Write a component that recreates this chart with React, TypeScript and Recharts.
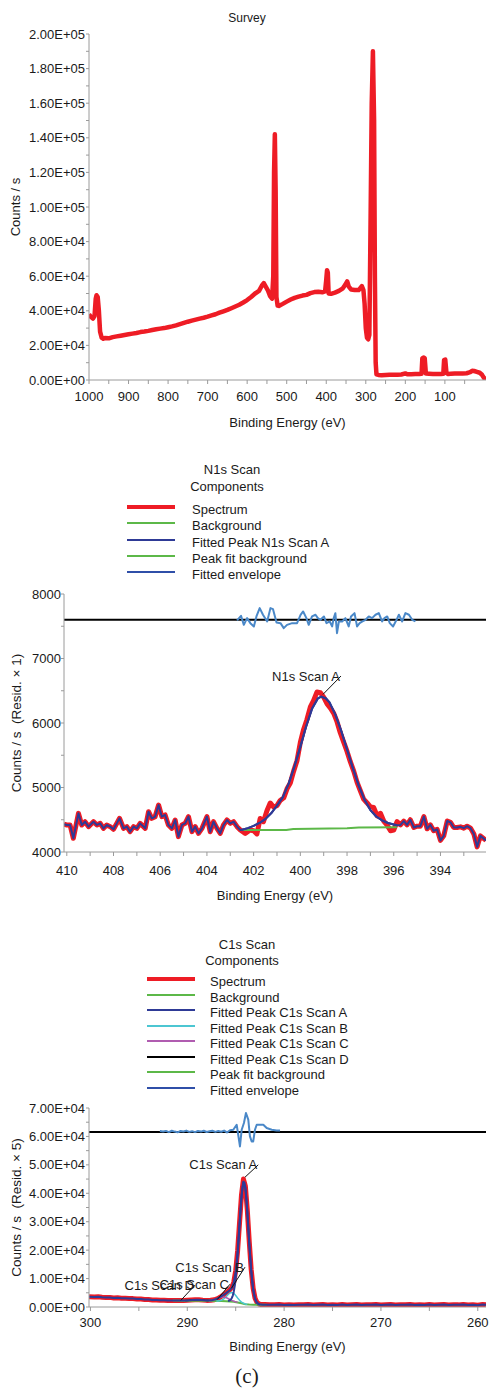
import React from "react";
import {
  LineChart,
  Line,
  XAxis,
  YAxis,
  ReferenceLine,
  ReferenceDot,
} from "recharts";

type Pair = [number, number]; // [binding energy (eV), counts / s]

const FONT = '"Liberation Sans", Arial, sans-serif';
const INK = "#1a1a1a";
const AXIS = "#9a9a9a";
const RED = "#ee1c25";
const GREEN = "#5cb848";
const NAVY = "#2e3a96";
const CYAN = "#4cc6d2";
const MAGENTA = "#b05cb0";
const RESID = "#4a88c8";

// ---------- Survey ----------
const SURVEY: Pair[] = [
  [1000, 38000], [995, 36500], [990, 35500], [986, 37000], [983, 47000], [981, 49000],
  [978, 48000], [975, 40000], [972, 28000], [968, 24500], [964, 23800], [960, 24300],
  [950, 24100], [940, 24800], [930, 25200], [920, 25600], [910, 26000], [900, 26400],
  [890, 26800], [880, 27200], [870, 27700], [860, 28000], [850, 28400], [840, 28900],
  [830, 29300], [820, 29700], [810, 30000], [800, 30500], [790, 31000], [780, 31600],
  [770, 32300], [760, 33000], [750, 33700], [740, 34300], [730, 34900], [720, 35500],
  [710, 36000], [700, 36600], [690, 37300], [680, 38000], [670, 38900], [660, 39700],
  [650, 40500], [640, 41500], [630, 42500], [620, 43500], [610, 44800], [600, 46200],
  [590, 48000], [580, 50000], [570, 51500], [563, 54500], [558, 56000], [553, 54000],
  [548, 52000], [542, 48500], [537, 47000], [534, 60000], [532, 120000], [530, 142000],
  [528, 110000], [526, 48000], [523, 43000], [520, 42800], [510, 44000], [500, 45300],
  [490, 46500], [480, 47500], [470, 48200], [460, 48800], [450, 49200], [440, 50200],
  [430, 50800], [420, 51000], [410, 50700], [403, 51200], [400, 58000], [398, 63500],
  [396, 62000], [394, 50000], [388, 49800], [378, 50500], [368, 51500], [358, 53000],
  [352, 55000], [347, 57000], [343, 54000], [337, 52300], [328, 52000], [318, 52000],
  [310, 54300], [306, 52000], [303, 44000], [300, 30000], [297, 24500], [294, 23500],
  [291, 26000], [288, 90000], [285, 160000], [282, 190000], [279, 150000], [277, 60000],
  [275, 10000], [273, 3300], [268, 2900], [260, 2800], [250, 2900], [240, 3000],
  [230, 3000], [220, 3100], [210, 3200], [200, 3800], [195, 3300], [185, 3300],
  [175, 3400], [165, 3500], [159, 3600], [157, 12500], [154, 13000], [151, 12600],
  [148, 3700], [140, 3600], [130, 3500], [120, 3400], [110, 3500], [104, 3600],
  [102, 11500], [99, 11800], [96, 4000], [92, 3500], [85, 3600], [75, 3700],
  [65, 3700], [55, 3800], [45, 3900], [36, 4500], [31, 5300], [26, 5200],
  [19, 4700], [12, 4200], [6, 3000], [2, 1500], [-3, 0],
];
const SURVEY_X_DOMAIN: [number, number] = [-4, 1000];
const SURVEY_Y_DOMAIN: [number, number] = [0, 200000];
const SURVEY_X_TICKS = [
  1000, 950, 900, 850, 800, 750, 700, 650, 600, 550, 500, 450, 400, 350, 300, 250, 200,
  150, 100, 50,
];
const SURVEY_Y_TICKS = [
  0, 10000, 20000, 30000, 40000, 50000, 60000, 70000, 80000, 90000, 100000, 110000,
  120000, 130000, 140000, 150000, 160000, 170000, 180000, 190000, 200000,
];

// ---------- N1s ----------
const N1S_SPECTRUM: Pair[] = [
  [410.12, 4430], [410.0, 4419], [409.86, 4419], [409.72, 4212], [409.5, 4599],
  [409.36, 4419], [409.22, 4470], [409.07, 4393], [408.86, 4470], [408.71, 4419],
  [408.57, 4444], [408.43, 4367], [408.29, 4419], [408.14, 4393], [408.0, 4352],
  [407.86, 4444], [407.74, 4522], [407.57, 4367], [407.43, 4393], [407.29, 4315],
  [407.14, 4393], [407.0, 4367], [406.86, 4444], [406.64, 4367], [406.5, 4625],
  [406.36, 4522], [406.22, 4548], [406.07, 4728], [405.93, 4548], [405.79, 4574],
  [405.65, 4419], [405.5, 4367], [405.36, 4496], [405.22, 4238], [405.07, 4419],
  [404.93, 4444], [404.79, 4548], [404.64, 4315], [404.5, 4393], [404.36, 4289],
  [404.21, 4367], [404.0, 4548], [403.86, 4315], [403.72, 4470], [403.57, 4367],
  [403.43, 4289], [403.29, 4419], [403.14, 4496], [403.0, 4444], [402.86, 4470],
  [402.71, 4393], [402.57, 4341], [402.36, 4289], [402.15, 4341], [402.0, 4330],
  [401.86, 4280], [401.72, 4520], [401.58, 4470], [401.43, 4640], [401.29, 4760],
  [401.15, 4700], [401.0, 4720], [400.86, 4800], [400.71, 4840], [400.57, 4980],
  [400.43, 5070], [400.29, 5250], [400.14, 5420], [400.0, 5700], [399.86, 5900],
  [399.72, 6050], [399.57, 6250], [399.43, 6350], [399.29, 6480], [399.14, 6470],
  [399.0, 6400], [398.86, 6300], [398.71, 6230], [398.57, 6150], [398.43, 6020],
  [398.29, 5850], [398.14, 5700], [398.0, 5560], [397.86, 5400], [397.71, 5250],
  [397.57, 5080], [397.43, 4950], [397.29, 4820], [397.14, 4760], [397.0, 4700],
  [396.86, 4690], [396.71, 4560], [396.57, 4600], [396.43, 4480], [396.29, 4420],
  [396.14, 4330], [396.0, 4340], [395.86, 4470], [395.71, 4420], [395.57, 4480],
  [395.43, 4420], [395.29, 4500], [395.14, 4380], [395.0, 4400], [394.86, 4400],
  [394.71, 4550], [394.57, 4360], [394.43, 4420], [394.29, 4330], [394.14, 4350],
  [394.0, 4180], [393.86, 4250], [393.71, 4480], [393.57, 4460], [393.43, 4380],
  [393.29, 4380], [393.14, 4390], [393.0, 4370], [392.86, 4400], [392.71, 4370],
  [392.57, 4280], [392.43, 4080], [392.29, 4250], [392.05, 4180],
];
const N1S_BACKGROUND: Pair[] = [
  [402.5, 4340], [400.6, 4342], [400.3, 4355], [398.0, 4370], [397.5, 4380], [395.86, 4385],
];
// single component, so the fitted peak and the envelope coincide
const N1S_PEAK_A: Pair[] = [
  [402.5, 4345], [402.25, 4370], [402.0, 4405], [401.75, 4450], [401.5, 4510],
  [401.25, 4600], [401.0, 4720], [400.75, 4850], [400.5, 5060], [400.25, 5330],
  [400.0, 5630], [399.75, 5950], [399.5, 6220], [399.25, 6380], [399.1, 6410],
  [398.9, 6380], [398.75, 6320], [398.5, 6130], [398.25, 5880], [398.0, 5590],
  [397.75, 5300], [397.5, 5030], [397.25, 4810], [397.0, 4650], [396.75, 4550],
  [396.5, 4490], [396.25, 4450], [396.0, 4425], [395.86, 4415],
];
const N1S_ENVELOPE: Pair[] = N1S_PEAK_A;
const N1S_FIT: [number, number] = [395.86, 402.5];
const N1S_RESIDUAL: Pair[] = [
  [402.71, 7590], [402.54, 7662], [402.42, 7522], [402.28, 7626], [402.14, 7548],
  [401.99, 7497], [401.88, 7652], [401.74, 7781], [401.6, 7678], [401.42, 7574],
  [401.28, 7781], [401.17, 7765], [401.02, 7559], [400.85, 7548], [400.71, 7471],
  [400.57, 7522], [400.35, 7548], [400.14, 7548], [399.99, 7678], [399.88, 7729],
  [399.74, 7626], [399.64, 7522], [399.5, 7652], [399.35, 7678], [399.25, 7626],
  [399.14, 7600], [398.99, 7652], [398.88, 7548], [398.74, 7574], [398.64, 7497],
  [398.57, 7626], [398.5, 7703], [398.43, 7393], [398.35, 7574], [398.21, 7574],
  [398.07, 7626], [397.93, 7497], [397.83, 7652], [397.68, 7703], [397.57, 7497],
  [397.46, 7548], [397.34, 7574], [397.21, 7600], [397.07, 7652], [396.93, 7626],
  [396.78, 7678], [396.64, 7703], [396.5, 7574], [396.4, 7626], [396.28, 7652],
  [396.17, 7548], [396.03, 7497], [395.88, 7600], [395.78, 7678], [395.64, 7574],
  [395.5, 7703], [395.35, 7678], [395.21, 7600], [395.07, 7574],
];
const N1S_RESID_BASE = 7600;
const N1S_X_DOMAIN: [number, number] = [392.05, 410.12];
const N1S_Y_DOMAIN: [number, number] = [4000, 8000];
const N1S_X_TICKS = [410, 409, 408, 407, 406, 405, 404, 403, 402, 401, 400, 399, 398, 397, 396, 395, 394, 393];
const N1S_Y_TICKS = [4000, 4500, 5000, 5500, 6000, 6500, 7000, 7500, 8000];
const N1S_LEGEND = ["Spectrum", "Background", "Fitted Peak N1s Scan A", "Peak fit background", "Fitted envelope"];
const N1S_LABELS = [{ text: "N1s Scan A", tip: [399.03, 6444], tail: [398.26, 6728] }];

// ---------- C1s ----------
const C1S_SPECTRUM: Pair[] = [
  [300.15, 3650], [299.6, 3500], [299.2, 3580], [298.8, 3420], [298.4, 3350], [298.0, 3380],
  [297.6, 3200], [297.2, 3250], [296.8, 3100], [296.4, 3050], [296.0, 3000], [295.6, 2950],
  [295.2, 2820], [294.8, 2780], [294.4, 2650], [294.0, 2600], [293.6, 2500], [293.2, 2480],
  [292.8, 2380], [292.4, 2350], [292.0, 2300], [291.6, 2280], [291.2, 2320], [290.8, 2260],
  [290.4, 2300], [290.0, 2380], [289.6, 2480], [289.2, 2520], [288.8, 2560], [288.4, 2420],
  [288.0, 2330], [287.6, 2350], [287.2, 2550], [286.8, 3050], [286.6, 3500], [286.4, 3900],
  [286.2, 4400], [286.0, 4900], [285.8, 5500], [285.6, 6100], [285.4, 6900], [285.2, 8700],
  [285.0, 12800], [284.8, 19900], [284.6, 29800], [284.4, 39500], [284.2, 45000],
  [284.0, 42500], [283.8, 34000], [283.6, 23000], [283.4, 13200], [283.2, 6600],
  [283.0, 3100], [282.8, 1600], [282.6, 1050], [282.4, 900], [282.2, 850], [282.0, 880],
  [281.5, 820], [281.0, 780], [280.5, 880], [280.0, 740], [279.5, 830], [279.0, 700],
  [278.5, 790], [278.0, 760], [277.5, 880], [277.0, 690], [276.5, 800], [276.0, 850],
  [275.5, 700], [275.0, 790], [274.5, 740], [274.0, 890], [273.5, 710], [273.0, 800],
  [272.5, 840], [272.0, 700], [271.5, 810], [271.0, 760], [270.5, 850], [270.0, 700],
  [269.5, 790], [269.0, 900], [268.5, 700], [268.0, 810], [267.5, 760], [267.0, 850],
  [266.5, 690], [266.0, 800], [265.5, 740], [265.0, 900], [264.5, 700], [264.0, 810],
  [263.5, 860], [263.0, 700], [262.5, 800], [262.0, 750], [261.5, 920], [261.0, 690],
  [260.5, 820], [260.0, 640], [259.5, 900], [259.15, 760],
];
const C1S_BACKGROUND: Pair[] = [
  [291.5, 2250], [290.5, 2235], [289.5, 2215], [288.5, 2200], [287.5, 2180], [287.0, 2110],
  [286.5, 2075], [286.0, 2050], [285.6, 1970], [285.2, 1850], [284.8, 1600], [284.4, 1300],
  [284.0, 1000], [283.6, 870], [283.2, 820], [282.6, 780], [281.8, 770],
];
const C1S_PEAK_A: Pair[] = [
  [285.8, 2090], [285.7, 2180], [285.6, 2340], [285.5, 2650], [285.4, 3170], [285.3, 4040],
  [285.2, 5400], [285.1, 7380], [285.0, 10130], [284.9, 13720], [284.8, 18120],
  [284.7, 23210], [284.6, 28640], [284.5, 33980], [284.4, 38630], [284.3, 42080],
  [284.2, 43900], [284.1, 43830], [284.0, 41860], [283.9, 38290], [283.8, 33520],
  [283.7, 28080], [283.6, 22550], [283.5, 17370], [283.4, 12880], [283.3, 9210],
  [283.2, 6400], [283.1, 4360], [283.0, 2950], [282.9, 2045], [282.8, 1490],
  [282.7, 1155], [282.6, 970], [282.5, 868],
];
const C1S_PEAK_B: Pair[] = [
  [287.0, 2120], [286.8, 2150], [286.6, 2260], [286.4, 2500], [286.2, 2950], [286.0, 3610],
  [285.8, 4320], [285.6, 4920], [285.4, 5120], [285.2, 4800], [285.0, 4070], [284.8, 3160],
  [284.6, 2340], [284.4, 1730], [284.2, 1330], [284.0, 1064], [283.8, 940],
];
const C1S_PEAK_C: Pair[] = [
  [287.8, 2236], [287.5, 2320], [287.2, 2543], [286.9, 2948], [286.6, 3373], [286.3, 3565],
  [286.0, 3343], [285.7, 2818], [285.4, 2313], [285.1, 1939], [284.8, 1636],
];
const C1S_PEAK_D: Pair[] = [
  [290.2, 2277], [289.8, 2364], [289.4, 2490], [289.0, 2550], [288.6, 2480], [288.2, 2344],
  [287.8, 2247],
];
const C1S_ENVELOPE: Pair[] = [
  [291.5, 2250], [291.0, 2245], [290.5, 2255], [290.0, 2310], [289.5, 2460], [289.0, 2550],
  [288.5, 2450], [288.0, 2290], [287.5, 2335], [287.0, 2800], [286.6, 3550], [286.3, 4200],
  [286.0, 4900], [285.8, 5400], [285.6, 5960], [285.4, 6760], [285.2, 8550], [285.0, 12540],
  [284.8, 19720], [284.6, 29530], [284.4, 39060], [284.2, 44080], [284.0, 41920],
  [283.8, 33540], [283.6, 22550], [283.4, 12880], [283.2, 6400], [283.0, 2950],
  [282.8, 1490], [282.6, 970], [282.2, 775], [281.8, 770],
];
const C1S_FIT: [number, number] = [281.8, 291.5];
const C1S_RESIDUAL: Pair[] = [
  [292.83, 61900], [292.5, 61700], [292.2, 61950], [291.9, 61500], [291.6, 62000],
  [291.3, 61700], [291.0, 61450], [290.7, 61900], [290.4, 61750], [290.1, 62050],
  [289.8, 61600], [289.5, 61850], [289.2, 61500], [288.9, 61900], [288.6, 61700],
  [288.3, 62000], [288.0, 61550], [287.7, 61800], [287.4, 62000], [287.1, 61600],
  [286.8, 61900], [286.5, 61650], [286.2, 62050], [285.9, 61400], [285.59, 62200],
  [285.25, 62360], [284.9, 64120], [284.74, 60590], [284.56, 56480], [284.38, 62360],
  [284.15, 64710], [283.94, 68240], [283.7, 65890], [283.53, 60000], [283.35, 58240],
  [283.19, 58240], [283.01, 62360], [282.83, 64120], [282.49, 64120], [282.15, 64120],
  [281.8, 62950], [281.28, 62360], [280.77, 62110], [280.42, 62110],
];
const C1S_RESID_BASE = 61600;
const C1S_X_DOMAIN: [number, number] = [259.15, 300.15];
const C1S_Y_DOMAIN: [number, number] = [0, 70000];
const C1S_X_TICKS = [300, 295, 290, 285, 280, 275, 270, 265, 260];
const C1S_Y_TICKS = [
  0, 5000, 10000, 15000, 20000, 25000, 30000, 35000, 40000, 45000, 50000, 55000, 60000,
  65000, 70000,
];
const C1S_LEGEND = [
  "Spectrum", "Background", "Fitted Peak C1s Scan A", "Fitted Peak C1s Scan B",
  "Fitted Peak C1s Scan C", "Fitted Peak C1s Scan D", "Peak fit background", "Fitted envelope",
];
const C1S_LABELS = [
  { text: "C1s Scan A", tip: [284.04, 45660], tail: [282.67, 50000] },
  { text: "C1s Scan B", tip: [285.44, 6600], tail: [284.04, 14010] },
  { text: "C1s Scan C", tip: [286.91, 2610], tail: [285.59, 8010] },
  { text: "C1s Scan D", tip: [290.66, 2360], tail: [289.21, 7660] },
];

// legend swatches
const SWATCH: Record<string, { color: string; width: number }> = {
  Spectrum: { color: RED, width: 4.5 },
  Background: { color: GREEN, width: 2 },
  "Fitted Peak N1s Scan A": { color: NAVY, width: 2 },
  "Fitted Peak C1s Scan A": { color: NAVY, width: 2 },
  "Fitted Peak C1s Scan B": { color: CYAN, width: 2 },
  "Fitted Peak C1s Scan C": { color: MAGENTA, width: 2 },
  "Fitted Peak C1s Scan D": { color: "#000", width: 2 },
  "Peak fit background": { color: GREEN, width: 2 },
  "Fitted envelope": { color: "#2f4fa8", width: 2 },
};

const pts = (arr: Pair[]) => arr.map(([be, c]) => ({ be, c }));
// spectrum outside the fit window, fitted envelope inside it
const trace = (spectrum: Pair[], fit: Pair[], [lo, hi]: [number, number]) =>
  pts([
    ...spectrum.filter(([be]) => be > hi),
    ...fit,
    ...spectrum.filter(([be]) => be < lo),
  ]);

const sci = (v: number) => {
  if (v === 0) return "0.00E+00";
  const e = Math.floor(Math.log10(v) + 1e-9);
  return `${(v / 10 ** e).toFixed(2)}E+${String(e).padStart(2, "0")}`;
};

const tickStyle = { fontSize: 13, fill: INK, fontFamily: FONT };

function Text({ x, y, children, size = 13, left = false, family = FONT }: any) {
  return (
    <div
      style={{
        position: "absolute",
        left: x,
        top: y,
        transform: left ? "translate(0,-50%)" : "translate(-50%,-50%)",
        whiteSpace: "nowrap",
        fontSize: size,
        lineHeight: 1,
        fontFamily: family,
        color: INK,
      }}
    >
      {children}
    </div>
  );
}

function Legend({ names, top, gap, lineX, textX }: any) {
  return (
    <>
      {names.map((n: string, i: number) => {
        const s = SWATCH[n];
        const y = top + i * gap;
        return (
          <React.Fragment key={n}>
            <div
              style={{
                position: "absolute",
                left: lineX,
                top: y - 2 - s.width / 2,
                width: 48,
                height: s.width,
                background: s.color,
              }}
            />
            <Text x={textX} y={y} left>
              {n}
            </Text>
          </React.Fragment>
        );
      })}
    </>
  );
}

const line = (data: any[], color: string, width: number, key: string) => (
  <Line
    key={key}
    data={data}
    dataKey="c"
    stroke={color}
    strokeWidth={width}
    dot={false}
    activeDot={false}
    isAnimationActive={false}
    strokeLinejoin="round"
  />
);

const frame = [
  <XAxis key="fx" xAxisId="frame" orientation="top" type="number" domain={[0, 1]} tick={false} tickLine={false} height={0} stroke={AXIS} />,
  <YAxis key="fy" yAxisId="frame" orientation="right" type="number" domain={[0, 1]} tick={false} tickLine={false} width={0} stroke={AXIS} />,
];

const annotations = (labels: any[]) =>
  labels.flatMap((l) => [
    <ReferenceLine
      key={l.text + "l"}
      segment={[
        { x: l.tip[0], y: l.tip[1] },
        { x: l.tail[0], y: l.tail[1] },
      ]}
      stroke="#111"
      strokeWidth={1}
    />,
    <ReferenceDot
      key={l.text + "d"}
      x={l.tail[0]}
      y={l.tail[1]}
      r={0}
      fill="none"
      stroke="none"
      label={{ value: l.text, position: "left", offset: 1, fill: INK, fontSize: 13, fontFamily: FONT }}
    />,
  ]);

export default function App() {
  return (
    <div
      style={{
        position: "absolute",
        left: 0,
        top: 0,
        width: 489,
        height: 1388,
        background: "#fff",
        fontFamily: FONT,
      }}
    >
      {/* Survey */}
      <Text x={247} y={18} size={12}>
        Survey
      </Text>
      <div style={{ position: "absolute", left: 0, top: 0 }}>
        <LineChart width={489} height={440} margin={{ top: 34, right: 3, bottom: 0, left: 0 }}>
          <XAxis
            dataKey="be"
            type="number"
            domain={SURVEY_X_DOMAIN}
            reversed
            allowDataOverflow
            ticks={SURVEY_X_TICKS}
            interval={0}
            tickFormatter={(v) => (v % 100 === 0 ? String(v) : "")}
            height={60}
            tickSize={4}
            tickMargin={8}
            tick={tickStyle}
            stroke={AXIS}
            label={{ value: "Binding Energy (eV)", position: "insideBottom", offset: 13, fill: INK, fontSize: 13, fontFamily: FONT }}
          />
          <YAxis
            type="number"
            domain={SURVEY_Y_DOMAIN}
            allowDataOverflow
            ticks={SURVEY_Y_TICKS}
            interval={0}
            tickFormatter={(v) => (v % 20000 === 0 ? sci(v) : "")}
            width={89}
            tickSize={3}
            tickMargin={1}
            tick={tickStyle}
            stroke={AXIS}
            label={{ value: "Counts / s", angle: -90, position: "insideLeft", offset: 15.5, fill: INK, fontSize: 13, fontFamily: FONT, style: { textAnchor: "middle" } }}
          />
          {frame}
          {line(pts(SURVEY), RED, 4.5, "survey")}
        </LineChart>
      </div>

      {/* N1s */}
      <Text x={232} y={469}>N1s Scan</Text>
      <Text x={227} y={486}>Components</Text>
      <Legend names={N1S_LEGEND} top={509} gap={16.3} lineX={127} textX={192} />
      <div style={{ position: "absolute", left: 0, top: 580 }}>
        <LineChart width={489} height={330} margin={{ top: 14, right: 3, bottom: 0, left: 0 }}>
          <XAxis
            dataKey="be"
            type="number"
            domain={N1S_X_DOMAIN}
            reversed
            allowDataOverflow
            ticks={N1S_X_TICKS}
            interval={0}
            tickFormatter={(v) => (v % 2 === 0 ? String(v) : "")}
            height={58}
            tickSize={4}
            tickMargin={9.5}
            tick={tickStyle}
            stroke={AXIS}
            label={{ value: "Binding Energy (eV)", position: "insideBottom", offset: 10.3, fill: INK, fontSize: 13, fontFamily: FONT }}
          />
          <YAxis
            type="number"
            domain={N1S_Y_DOMAIN}
            allowDataOverflow
            ticks={N1S_Y_TICKS}
            interval={0}
            tickFormatter={(v) => (v % 1000 === 0 ? String(v) : "")}
            width={64}
            tickSize={3}
            tickMargin={0}
            tick={tickStyle}
            stroke={AXIS}
            label={{ value: "Counts / s \u00a0(Resid. × 1)", angle: -90, position: "insideLeft", offset: 16.7, fill: INK, fontSize: 13.5, fontFamily: FONT, style: { textAnchor: "middle" } }}
          />
          {frame}
          {line(pts(N1S_SPECTRUM), RED, 5, "spec")}
          {line(pts(N1S_BACKGROUND), GREEN, 2, "bg")}
          {line(pts(N1S_PEAK_A), NAVY, 2, "pa")}
          {line(trace(N1S_SPECTRUM, N1S_ENVELOPE, N1S_FIT), NAVY, 2, "env")}
          <ReferenceLine y={N1S_RESID_BASE} stroke="#000" strokeWidth={2} />
          {line(pts(N1S_RESIDUAL), RESID, 2, "res")}
          {annotations(N1S_LABELS)}
        </LineChart>
      </div>

      {/* C1s */}
      <Text x={247} y={944}>C1s Scan</Text>
      <Text x={242} y={960}>Components</Text>
      <Legend names={C1S_LEGEND} top={981} gap={15.57} lineX={147} textX={210} />
      <div style={{ position: "absolute", left: 0, top: 1095 }}>
        <LineChart width={489} height={267} margin={{ top: 13, right: 3, bottom: 0, left: 0 }}>
          <XAxis
            dataKey="be"
            type="number"
            domain={C1S_X_DOMAIN}
            reversed
            allowDataOverflow
            ticks={C1S_X_TICKS}
            interval={0}
            tickFormatter={(v) => (v % 10 === 0 ? String(v) : "")}
            height={55}
            tickSize={4}
            tickMargin={7}
            tick={tickStyle}
            stroke={AXIS}
            label={{ value: "Binding Energy (eV)", position: "insideBottom", offset: 11.3, fill: INK, fontSize: 13, fontFamily: FONT }}
          />
          <YAxis
            type="number"
            domain={C1S_Y_DOMAIN}
            allowDataOverflow
            ticks={C1S_Y_TICKS}
            interval={0}
            tickFormatter={(v) => (v % 10000 === 0 ? sci(v) : "")}
            width={89}
            tickSize={3}
            tickMargin={1}
            tick={tickStyle}
            stroke={AXIS}
            label={{ value: "Counts / s \u00a0(Resid. × 5)", angle: -90, position: "insideLeft", offset: 15.8, fill: INK, fontSize: 13.5, fontFamily: FONT, style: { textAnchor: "middle" } }}
          />
          {frame}
          {line(pts(C1S_SPECTRUM), RED, 5, "spec")}
          {line(pts(C1S_BACKGROUND), GREEN, 2, "bg")}
          {line(pts(C1S_PEAK_B), CYAN, 1.5, "pb")}
          {line(pts(C1S_PEAK_C), MAGENTA, 1.5, "pc")}
          {line(pts(C1S_PEAK_D), "#000", 1.5, "pd")}
          {line(pts(C1S_PEAK_A), NAVY, 2, "pa")}
          {line(trace(C1S_SPECTRUM, C1S_ENVELOPE, C1S_FIT), NAVY, 2, "env")}
          <ReferenceLine y={C1S_RESID_BASE} stroke="#000" strokeWidth={2} />
          {line(pts(C1S_RESIDUAL), RESID, 2, "res")}
          {annotations(C1S_LABELS)}
        </LineChart>
      </div>

      <Text x={247} y={1376} size={21} family='"Liberation Serif", "Times New Roman", serif'>
        (c)
      </Text>
    </div>
  );
}
